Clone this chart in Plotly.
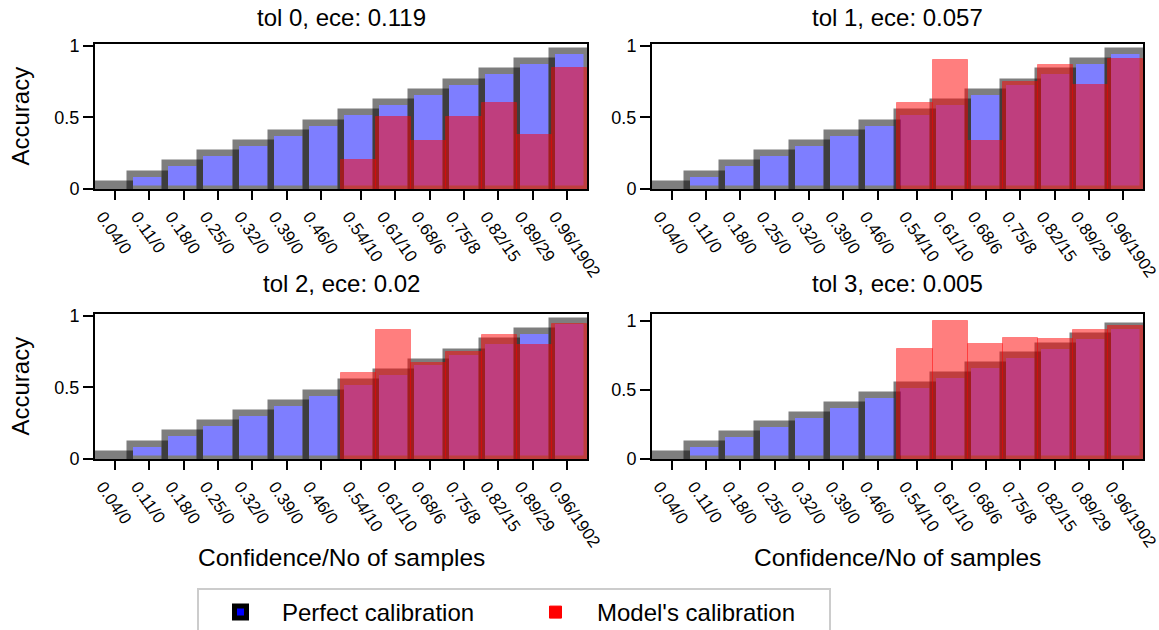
import plotly.graph_objects as go

# ---------------- data ----------------
bin_centers = [0.0357, 0.1071, 0.1786, 0.2500, 0.3214, 0.3929, 0.4643,
               0.5357, 0.6071, 0.6786, 0.7500, 0.8214, 0.8929, 0.9643]
perfect_accuracy = [0.0357, 0.1071, 0.1786, 0.2500, 0.3214, 0.3929, 0.4643,
                    0.5357, 0.6071, 0.6786, 0.7500, 0.8214, 0.8929, 0.9643]
tick_positions = [0.04, 0.11, 0.18, 0.25, 0.32, 0.39, 0.46,
                  0.54, 0.61, 0.68, 0.75, 0.82, 0.89, 0.96]
tick_labels = ["0.04/0", "0.11/0", "0.18/0", "0.25/0", "0.32/0", "0.39/0", "0.46/0",
               "0.54/10", "0.61/10", "0.68/6", "0.75/8", "0.82/15", "0.89/29", "0.96/1902"]

tol_names = ["tol 0", "tol 1", "tol 2", "tol 3"]
ece_values = ["0.119", "0.057", "0.02", "0.005"]

model_acc_tol0 = [None, None, None, None, None, None, None,
                  0.200, 0.500, 0.333, 0.500, 0.600, 0.379, 0.845]
model_acc_tol1 = [None, None, None, None, None, None, None,
                  0.600, 0.900, 0.333, 0.750, 0.867, 0.724, 0.910]
model_acc_tol2 = [None, None, None, None, None, None, None,
                  0.600, 0.900, 0.667, 0.750, 0.867, 0.793, 0.942]
model_acc_tol3 = [None, None, None, None, None, None, None,
                  0.800, 1.000, 0.833, 0.875, 0.867, 0.931, 0.965]
model_accs = [model_acc_tol0, model_acc_tol1, model_acc_tol2, model_acc_tol3]

y_tops = [1.0125, 1.0125, 1.0125, 1.05]

# ---------------- layout helpers ----------------
W, H = 1159, 630
FONT = "Liberation Sans, Arial, Helvetica, sans-serif"


def fx(px):
    return px / W


def fy(py):
    return 1 - py / H


col_px = [(95, 587), (652, 1143)]
row_px = [(44, 189), (314, 459)]
title_y_px = [17, 283]
BAR_W = 1 / 14

fig = go.Figure()
annotations = []
layout_axes = {}

for i in range(4):
    r, c = divmod(i, 2)
    xname = "x" if i == 0 else f"x{i + 1}"
    yname = "y" if i == 0 else f"y{i + 1}"
    xkey = "xaxis" if i == 0 else f"xaxis{i + 1}"
    ykey = "yaxis" if i == 0 else f"yaxis{i + 1}"

    fig.add_trace(go.Bar(
        x=bin_centers, y=perfect_accuracy, width=BAR_W,
        xaxis=xname, yaxis=yname,
        marker=dict(color="blue", opacity=0.5,
                    line=dict(color="black", width=6.5)),
        name="Perfect calibration", legendgroup="perfect",
        showlegend=(i == 0),
    ))
    fig.add_trace(go.Bar(
        x=bin_centers, y=model_accs[i], width=BAR_W,
        xaxis=xname, yaxis=yname,
        marker=dict(color="red", opacity=0.5, line=dict(color="red", width=1)),
        name="Model's calibration", legendgroup="model",
        showlegend=(i == 0),
    ))

    x0, x1 = col_px[c]
    y0, y1 = row_px[r]
    layout_axes[xkey] = dict(
        domain=[fx(x0), fx(x1)], anchor=yname, range=[0, 1],
        tickmode="array", tickvals=tick_positions, ticktext=tick_labels,
        tickangle=55, ticks="outside", ticklen=9, tickwidth=1.6, tickcolor="black",
        showline=True, linecolor="black", linewidth=2, mirror=True,
        showgrid=False, zeroline=False, ticklabelshift=-12,
        ticklabeloverflow="allow",
        tickfont=dict(family=FONT, size=17, color="black"),
    )
    layout_axes[ykey] = dict(
        domain=[fy(y1), fy(y0)], anchor=xname, range=[0, y_tops[i]],
        tickmode="array", tickvals=[0, 0.5, 1], ticktext=["0", "0.5", "1"],
        ticks="outside", ticklen=10, tickwidth=1.6, tickcolor="black",
        showline=True, linecolor="black", linewidth=2, mirror=True,
        showgrid=False, zeroline=False,
        tickfont=dict(family=FONT, size=18, color="black"),
    )

    # subplot title
    annotations.append(dict(
        text=f"{tol_names[i]}, ece: {ece_values[i]}",
        x=fx((x0 + x1) / 2), y=fy(title_y_px[r]), xref="paper", yref="paper",
        xanchor="center", yanchor="middle", showarrow=False,
        font=dict(family=FONT, size=24, color="black"),
    ))
    if c == 0:
        annotations.append(dict(
            text="Accuracy", textangle=-90,
            x=fx(20), y=fy((y0 + y1) / 2), xref="paper", yref="paper",
            xanchor="center", yanchor="middle", showarrow=False,
            font=dict(family=FONT, size=24, color="black"),
        ))
    if r == 1:
        annotations.append(dict(
            text="Confidence/No of samples",
            x=fx((x0 + x1) / 2), y=fy(557), xref="paper", yref="paper",
            xanchor="center", yanchor="middle", showarrow=False,
            font=dict(family=FONT, size=24.5, color="black"),
        ))

fig.update_layout(
    width=W, height=H,
    margin=dict(l=0, r=0, t=0, b=0, autoexpand=False),
    paper_bgcolor="white", plot_bgcolor="white",
    barmode="overlay", bargap=0,
    font=dict(family=FONT, color="black"),
    annotations=annotations,
    legend=dict(
        orientation="h", x=fx(197), y=fy(588), xanchor="left", yanchor="top",
        bordercolor="#cccccc", borderwidth=2, bgcolor="white",
        font=dict(family=FONT, size=24, color="black"),
        itemwidth=73, entrywidth=227, entrywidthmode="pixels",
        traceorder="normal",
    ),
    **layout_axes,
)

fig.write_html("out.html")
